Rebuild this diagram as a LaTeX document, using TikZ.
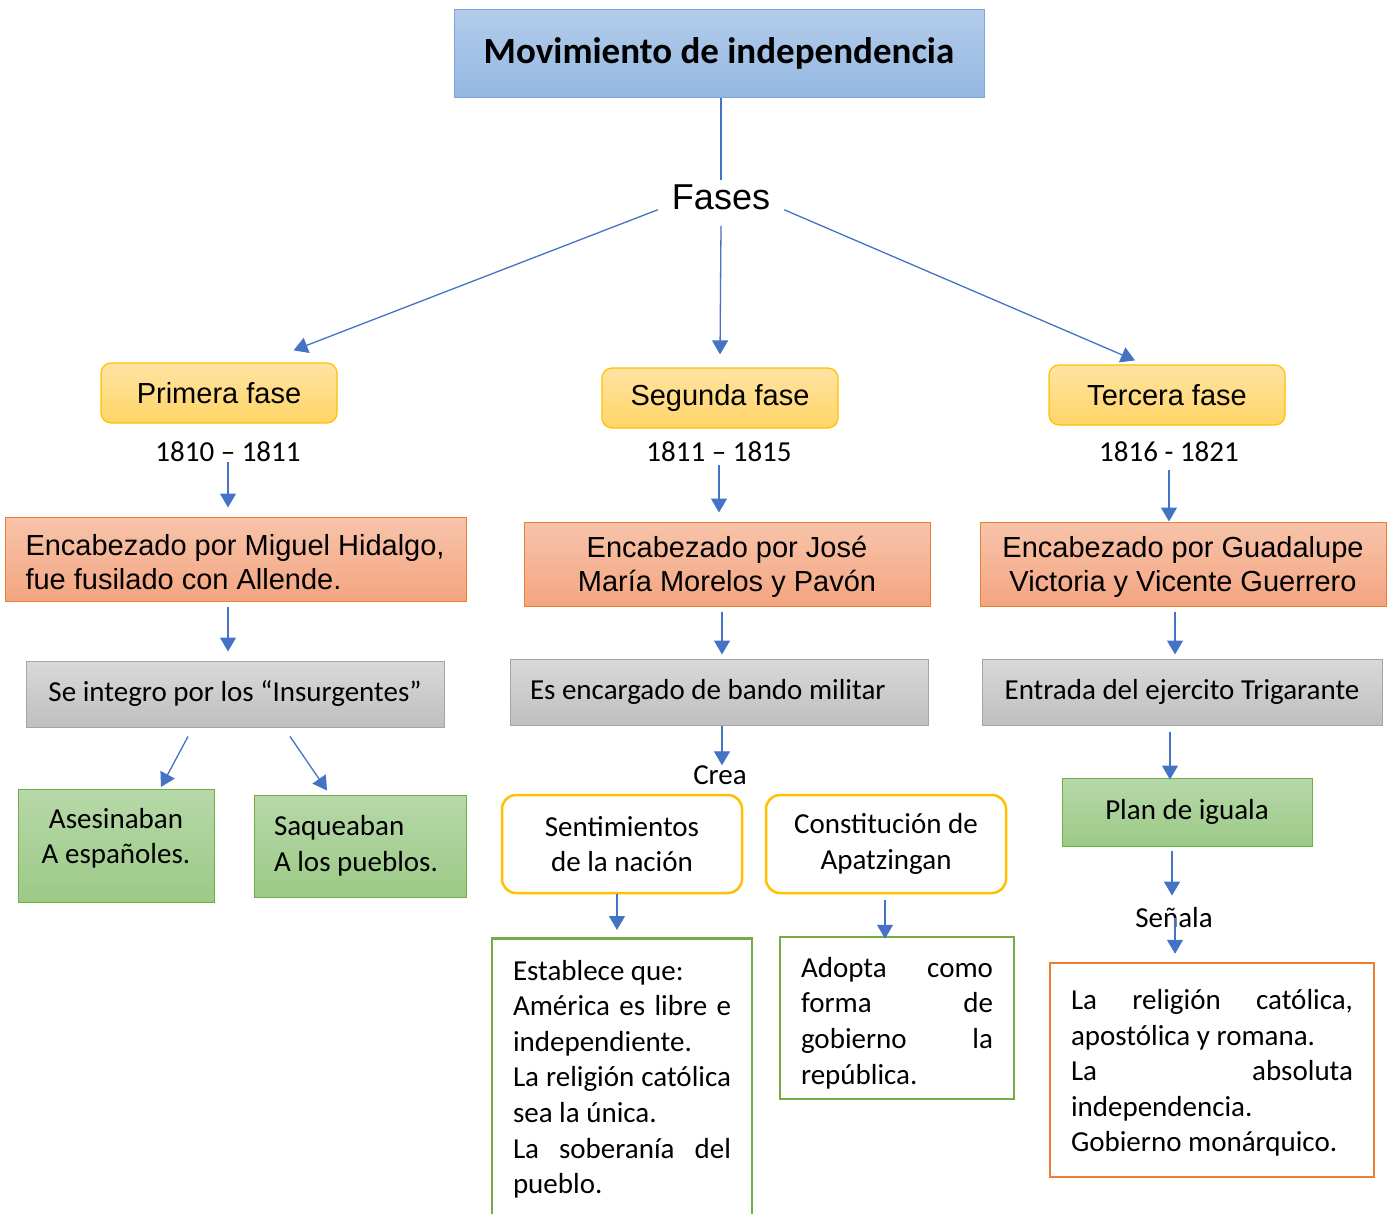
\documentclass[tikz,border=0pt]{standalone}
\usepackage{fontspec}
\setmainfont{Carlito}
\newfontfamily\arialf{Liberation Sans}
\usetikzlibrary{arrows.meta}
\definecolor{azul}{HTML}{4472C4}
\definecolor{tituloarriba}{HTML}{B3CCEA}
\definecolor{tituloabajo}{HTML}{94B8E2}
\definecolor{titulolinea}{HTML}{7FA3D8}
\definecolor{amarillo}{HTML}{FFC000}
\definecolor{amarilloarriba}{HTML}{FFE3A3}
\definecolor{amarilloabajo}{HTML}{FFD566}
\definecolor{naranja}{HTML}{ED7D31}
\definecolor{naranjaarriba}{HTML}{F7C4AA}
\definecolor{naranjaabajo}{HTML}{F4A581}
\definecolor{gris}{HTML}{A5A5A5}
\definecolor{grisarriba}{HTML}{D9D9D9}
\definecolor{grisabajo}{HTML}{BFBFBF}
\definecolor{verde}{HTML}{70AD47}
\definecolor{verdearriba}{HTML}{B7D8A9}
\definecolor{verdeabajo}{HTML}{9CCA86}
\newcommand\txt{\fontsize{29}{35.6}\selectfont}
\newcommand\arialtxt{\arialf\fontsize{29}{34}\selectfont}

\begin{document}
\begin{tikzpicture}[x=1pt,y=-1pt,
  arr/.style={draw=azul,line width=1.3pt,-{Triangle[width=16pt,length=14pt]}},
  linea/.style={draw=azul,line width=1.3pt},
  titulo/.style={draw=titulolinea,line width=1pt,top color=tituloarriba,bottom color=tituloabajo,
    minimum width=530pt,minimum height=88pt,font=\bfseries\fontsize{37}{44}\selectfont},
  fase/.style={draw=amarillo,line width=1.2pt,rounded corners=10pt,top color=amarilloarriba,
    bottom color=amarilloabajo,minimum width=236pt,minimum height=60pt,font=\arialtxt},
  anio/.style={inner sep=0pt,font=\txt},
  encab/.style={draw=naranja,line width=1pt,top color=naranjaarriba,bottom color=naranjaabajo,
    minimum width=406pt,minimum height=84pt,font=\arialtxt},
  grisbox/.style={draw=gris,line width=1pt,top color=grisarriba,bottom color=grisabajo,
    minimum height=66pt,font=\txt},
  verdebox/.style={draw=verde,line width=1pt,top color=verdearriba,bottom color=verdeabajo,font=\txt},
  docbox/.style={draw=amarillo,line width=2.5pt,rounded corners=14pt,fill=white,
    minimum width=240pt,minimum height=98pt,align=center,font=\txt},
  marco/.style={line width=2.5pt,fill=white,align=flush left,inner xsep=21pt,font=\txt},
  txt/.style={inner sep=0pt,font=\txt}]
\useasboundingbox (0,0) rectangle (1392,1213);

% arriba
\node[titulo] (titulo) at (719,53) {Movimiento de independencia};
\node[inner xsep=14pt,inner ysep=0pt,font=\arialf\fontsize{36}{40}\selectfont] (fases) at (721,197) {Fases};
\node[fase] (primera) at (219,393) {Primera fase};
\node[fase] (segunda) at (720,398) {Segunda fase};
\node[fase] (tercera) at (1167,395) {Tercera fase};
\node[anio] (anio1) at (228,452) {1810 – 1811};
\node[anio] (anio2) at (719,452) {1811 – 1815};
\node[anio] (anio3) at (1169,452) {1816 - 1821};

\node[encab,minimum width=460pt,text width=421pt,inner xsep=20pt,align=flush left] (enc1) at (236,559) {\rule{0pt}{27pt}Encabezado por Miguel Hidalgo,\\ fue fusilado con Allende.};
\node[encab,align=center] (enc2) at (727,564) {\rule{0pt}{27pt}Encabezado por José\\ María Morelos y Pavón};
\node[encab,align=center] (enc3) at (1183,564) {\rule{0pt}{27pt}Encabezado por Guadalupe\\ Victoria y Vicente Guerrero};

\node[grisbox,minimum width=418pt] (gris1) at (235,694) {Se integro por los “Insurgentes”};
\node[grisbox,text width=378pt,inner xsep=20pt,align=flush left] (gris2) at (719,692) {Es encargado de bando militar};
\node[grisbox,minimum width=400pt] (gris3) at (1182,692) {Entrada del ejercito Trigarante};

% primera fase
\node[verdebox,minimum width=196pt,minimum height=113pt,align=center] (asesinaban) at (116,846) {Asesinaban\\ A españoles.\rule[-20pt]{0pt}{0pt}};
\node[verdebox,minimum height=102pt,text width=172pt,inner xsep=20pt,align=flush left] (saqueaban) at (360,846) {Saqueaban\\ A los pueblos.};

% segunda fase
\node[txt] (crea) at (720,775) {Crea};
\node[docbox] (sentimientos) at (622,844) {Sentimientos\\ de la nación};
\node[docbox] (constitucion) at (886,844) {Constitución de\\ Apatzingan};
\node[marco,draw=verde,anchor=north,minimum width=260pt,minimum height=282pt,text width=218pt] (establece) at (622,937)
  {Establece que:\\ América\hfill es\hfill libre\hfill e\\ independiente.\\ La\hfill religión\hfill católica\\ sea la única.\\ La\hfill soberanía\hfill del\\ pueblo.};
\node[marco,draw=verde,minimum height=162pt,text width=192pt] (adopta) at (897,1018)
  {\rule{0pt}{30pt}Adopta\hfill como\\ forma\hfill de\\ gobierno\hfill la\\ república.};

% tercera fase
\node[verdebox,minimum width=250pt,minimum height=68pt] (plan) at (1187,812) {Plan de iguala};
\node[txt] (senala) at (1174,918) {Señala};
\node[marco,draw=naranja,minimum height=214pt,text width=282pt] (religion) at (1212,1070)
  {\rule{0pt}{26pt}La\hfill religión\hfill católica,\\ apostólica y romana.\\ La\hfill absoluta\\ independencia.\\ Gobierno monárquico.};

% conectores
\draw[linea] (fases.north |- titulo.south) -- ([yshift=4pt]fases.north);
\draw[arr] (fases.south west) -- ([xshift=-44pt,yshift=12pt]primera.north east);
\draw[arr] ([yshift=-16pt]fases.south) -- ([yshift=13pt]segunda.north);
\draw[arr] (fases.south east) -- ([xshift=-32pt,yshift=4pt]tercera.north);
\draw[arr,shorten >=9pt] (anio1.south) -- (anio1.south |- enc1.north);
\draw[arr,shorten <=3pt,shorten >=9pt] (anio2.south) -- (anio2.south |- enc2.north);
\draw[arr,shorten <=8pt,shorten >=0pt] (anio3.south) -- (anio3.south |- enc3.north);
\draw[arr,shorten <=5pt,shorten >=9pt] ([xshift=-8pt]enc1.south) -- ([xshift=-8pt]enc1.south |- gris1.north);
\draw[arr,shorten <=5pt,shorten >=4pt] ([xshift=-5pt]enc2.south) -- ([xshift=-5pt]enc2.south |- gris2.north);
\draw[arr,shorten <=5pt,shorten >=4pt] ([xshift=-8pt]enc3.south) -- ([xshift=-8pt]enc3.south |- gris3.north);
\draw[arr] ([xshift=-47pt,yshift=-9pt]gris1.south) -- ([xshift=45pt,yshift=2pt]asesinaban.north);
\draw[arr] ([xshift=55pt,yshift=-9pt]gris1.south) -- ([xshift=-33pt,yshift=4pt]saqueaban.north);
\draw[arr] ([xshift=3pt]gris2.south) -- ([xshift=2pt]crea.north);
\draw[arr,shorten >=7pt] ([xshift=-5pt]sentimientos.south) -- ([xshift=-5pt]sentimientos.south |- establece.north);
\draw[arr,shorten <=6pt,shorten >=-3pt] ([xshift=-1pt]constitucion.south) -- ([xshift=-1pt]constitucion.south |- adopta.north);
\draw[arr,shorten <=6pt,shorten >=-2pt] ([xshift=-12pt]gris3.south) -- ([xshift=-12pt]gris3.south |- plan.north);
\draw[arr,shorten <=4pt] ([xshift=-15pt]plan.south) -- ([xshift=-2pt,yshift=12pt]senala.north);
\draw[arr,shorten >=8pt] ([xshift=1pt]senala.center) -- ([xshift=1pt]senala.center |- religion.north);
\end{tikzpicture}
\end{document}
